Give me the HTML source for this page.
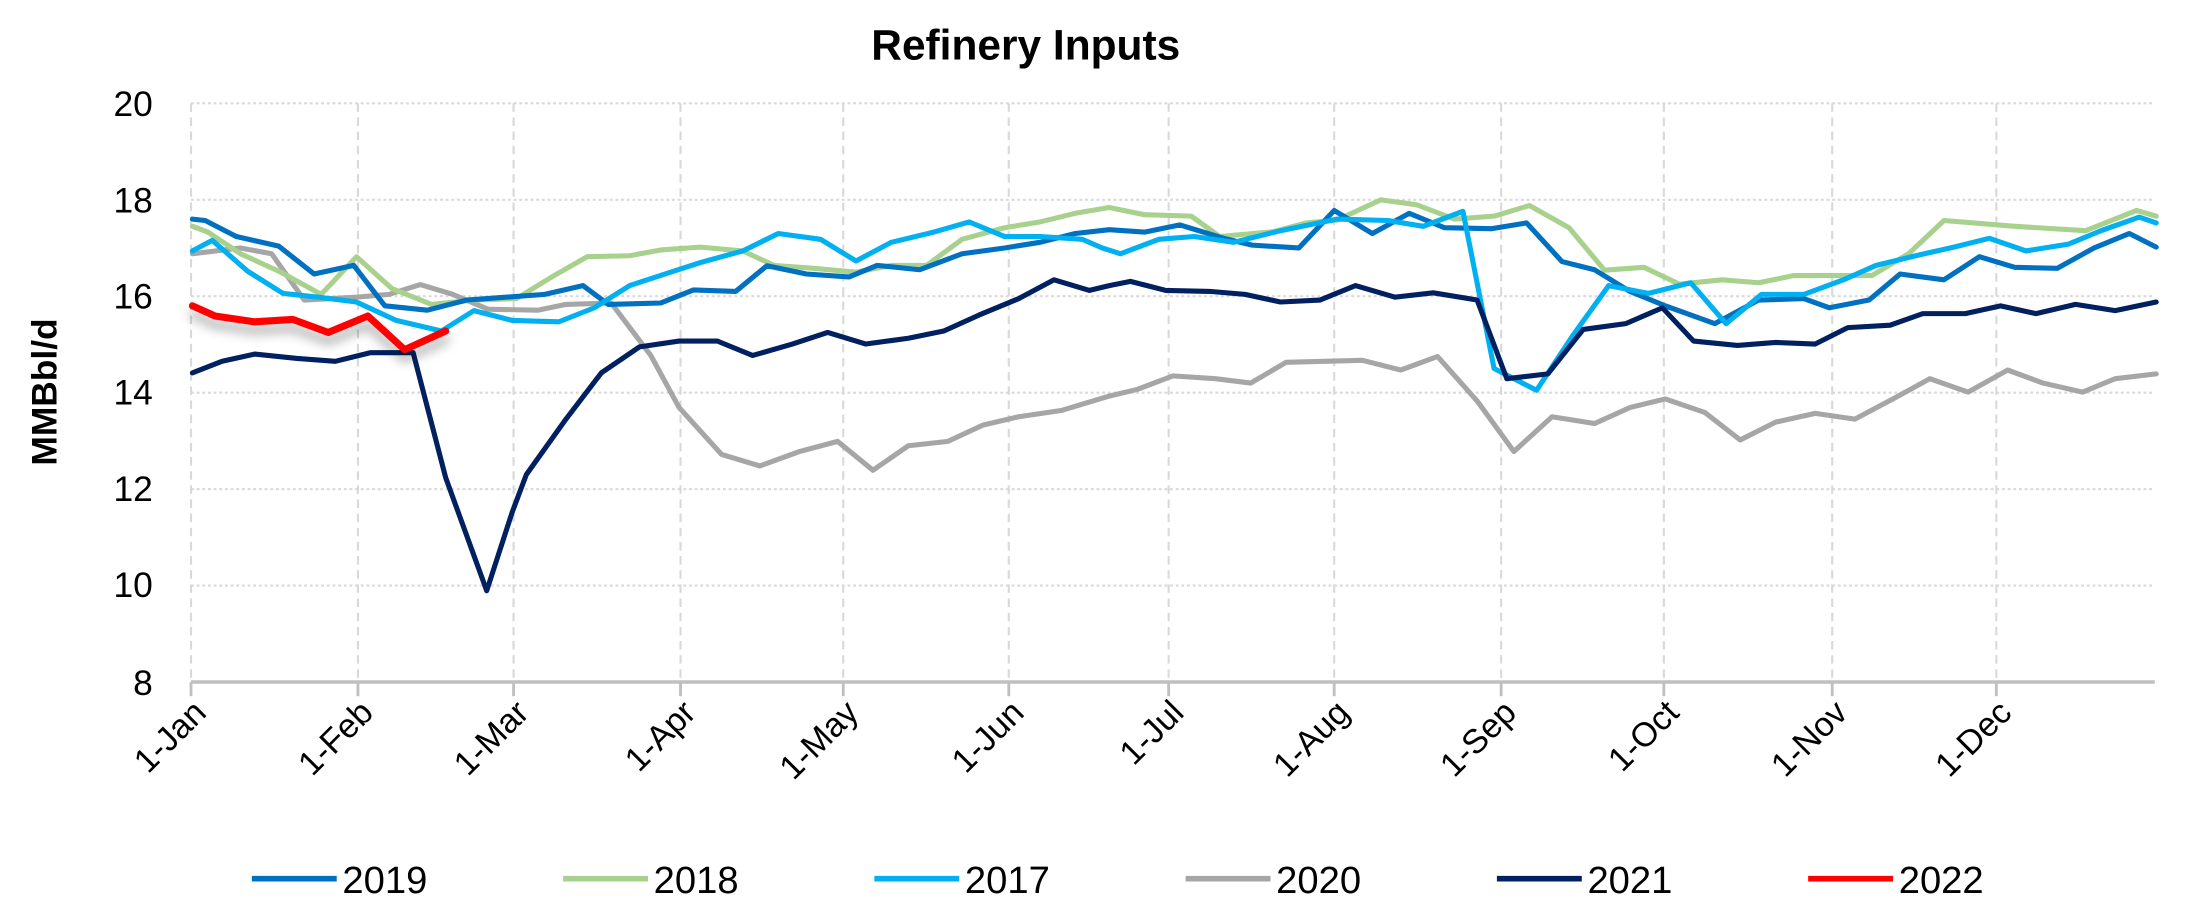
<!DOCTYPE html>
<html><head><meta charset="utf-8"><style>html,body{margin:0;padding:0;background:#fff;}svg{display:block;}</style></head>
<body>
<svg width="2193" height="900" viewBox="0 0 1550 636" xmlns="http://www.w3.org/2000/svg" font-family="'Liberation Sans', sans-serif">
<defs>
<filter id="sh" x="-20%" y="-50%" width="140%" height="200%"><feDropShadow dx="0" dy="6" stdDeviation="4" flood-color="#000" flood-opacity="0.35"/></filter>
</defs>
<rect width="1550" height="636" fill="#fff"/>
<text x="725" y="42" font-size="30" font-weight="bold" text-anchor="middle">Refinery Inputs</text>
<g stroke="#d9d9d9" stroke-width="1.5" stroke-dasharray="2,2">
<line x1="135" y1="73" x2="1523" y2="73"/><line x1="135" y1="141.2" x2="1523" y2="141.2"/><line x1="135" y1="209.3" x2="1523" y2="209.3"/><line x1="135" y1="277.5" x2="1523" y2="277.5"/><line x1="135" y1="345.7" x2="1523" y2="345.7"/><line x1="135" y1="413.8" x2="1523" y2="413.8"/>
</g>
<g stroke="#d9d9d9" stroke-width="1.5" stroke-dasharray="6,4">
<line x1="135" y1="73" x2="135" y2="482"/><line x1="253" y1="73" x2="253" y2="482"/><line x1="363" y1="73" x2="363" y2="482"/><line x1="481" y1="73" x2="481" y2="482"/><line x1="596" y1="73" x2="596" y2="482"/><line x1="713" y1="73" x2="713" y2="482"/><line x1="826" y1="73" x2="826" y2="482"/><line x1="943" y1="73" x2="943" y2="482"/><line x1="1061" y1="73" x2="1061" y2="482"/><line x1="1176" y1="73" x2="1176" y2="482"/><line x1="1295" y1="73" x2="1295" y2="482"/><line x1="1411" y1="73" x2="1411" y2="482"/>
</g>
<line x1="135" y1="482" x2="1523" y2="482" stroke="#bfbfbf" stroke-width="2.5"/>
<g stroke="#bfbfbf" stroke-width="2"><line x1="135" y1="482" x2="135" y2="492"/><line x1="253" y1="482" x2="253" y2="492"/><line x1="363" y1="482" x2="363" y2="492"/><line x1="481" y1="482" x2="481" y2="492"/><line x1="596" y1="482" x2="596" y2="492"/><line x1="713" y1="482" x2="713" y2="492"/><line x1="826" y1="482" x2="826" y2="492"/><line x1="943" y1="482" x2="943" y2="492"/><line x1="1061" y1="482" x2="1061" y2="492"/><line x1="1176" y1="482" x2="1176" y2="492"/><line x1="1295" y1="482" x2="1295" y2="492"/><line x1="1411" y1="482" x2="1411" y2="492"/></g>
<g font-size="25" text-anchor="end">
<text x="108" y="82">20</text><text x="108" y="150">18</text><text x="108" y="218">16</text><text x="108" y="286">14</text><text x="108" y="354">12</text><text x="108" y="422">10</text><text x="108" y="491">8</text>
</g>
<text transform="translate(40,277) rotate(-90)" font-size="25" font-weight="bold" text-anchor="middle">MMBbl/d</text>
<g font-size="24" text-anchor="end">
<text transform="translate(147,505) rotate(-45)">1-Jan</text>
<text transform="translate(265,505) rotate(-45)">1-Feb</text>
<text transform="translate(375,505) rotate(-45)">1-Mar</text>
<text transform="translate(493,505) rotate(-45)">1-Apr</text>
<text transform="translate(608,505) rotate(-45)">1-May</text>
<text transform="translate(725,505) rotate(-45)">1-Jun</text>
<text transform="translate(838,505) rotate(-45)">1-Jul</text>
<text transform="translate(955,505) rotate(-45)">1-Aug</text>
<text transform="translate(1073,505) rotate(-45)">1-Sep</text>
<text transform="translate(1188,505) rotate(-45)">1-Oct</text>
<text transform="translate(1307,505) rotate(-45)">1-Nov</text>
<text transform="translate(1423,505) rotate(-45)">1-Dec</text>
</g>
<g fill="none" stroke-linejoin="round" stroke-linecap="round" stroke-width="3.6">
<polyline id="s2020" stroke="#a6a6a6" points=""/>
<polyline id="s2018" stroke="#a9d18e" points=""/>
<polyline id="s2019" stroke="#0070c0" points=""/>
<polyline id="s2017" stroke="#00b0f0" points=""/>
<polyline id="s2021" stroke="#002060" points=""/>
<polyline id="s2022" stroke="#ff0000" stroke-width="5" filter="url(#sh)" points=""/>
</g>
<g stroke-width="4">
<line x1="178" y1="621" x2="238" y2="621" stroke="#0070c0"/>
<line x1="398" y1="621" x2="458" y2="621" stroke="#a9d18e"/>
<line x1="618" y1="621" x2="678" y2="621" stroke="#00b0f0"/>
<line x1="838" y1="621" x2="898" y2="621" stroke="#a6a6a6"/>
<line x1="1058" y1="621" x2="1118" y2="621" stroke="#002060"/>
<line x1="1278" y1="621" x2="1338" y2="621" stroke="#ff0000"/>
</g>
<g font-size="27">
<text x="242" y="631">2019</text><text x="462" y="631">2018</text><text x="682" y="631">2017</text><text x="902" y="631">2020</text><text x="1122" y="631">2021</text><text x="1342" y="631">2022</text>
</g>
<script>
var D={
s2019:[[136,17.6],[145,17.57],[167,17.24],[197,17.04],[222,16.46],[250,16.64],[272,15.8],[302,15.71],[330,15.92],[385,16.04],[412,16.22],[430,15.83],[467,15.86],[490,16.13],[520,16.1],[542,16.63],[570,16.46],[600,16.4],[620,16.64],[650,16.55],[680,16.88],[710,17.0],[735,17.12],[760,17.3],[784,17.38],[809,17.33],[834,17.48],[865,17.2],[885,17.06],[918,17.0],[943,17.78],[970,17.3],[996,17.72],[1021,17.42],[1054,17.4],[1079,17.52],[1104,16.72],[1127,16.55],[1152,16.1],[1177,15.8],[1212,15.43],[1243,15.92],[1275,15.95],[1293,15.76],[1321,15.92],[1343,16.46],[1374,16.34],[1399,16.82],[1424,16.6],[1454,16.58],[1480,17.0],[1505,17.3],[1524,17.02]],
s2018:[[136,17.45],[147,17.33],[170,16.88],[197,16.52],[227,16.04],[252,16.82],[277,16.16],[305,15.83],[335,15.92],[365,15.95],[390,16.4],[415,16.82],[445,16.84],[467,16.96],[495,17.02],[525,16.94],[547,16.64],[575,16.58],[605,16.5],[630,16.64],[655,16.64],[680,17.18],[710,17.42],[735,17.54],[760,17.72],[784,17.84],[809,17.69],[842,17.66],[862,17.24],[900,17.34],[923,17.52],[945,17.58],[976,18.0],[1001,17.9],[1028,17.6],[1056,17.66],[1081,17.88],[1109,17.42],[1134,16.54],[1162,16.6],[1187,16.25],[1217,16.34],[1243,16.28],[1268,16.43],[1323,16.43],[1349,16.88],[1374,17.57],[1424,17.45],[1474,17.36],[1510,17.78],[1524,17.66]],
s2017:[[136,16.94],[150,17.16],[175,16.52],[200,16.06],[225,15.98],[252,15.88],[280,15.5],[312,15.28],[335,15.7],[362,15.5],[395,15.47],[420,15.76],[445,16.22],[470,16.46],[495,16.7],[525,16.94],[550,17.3],[580,17.18],[605,16.73],[630,17.12],[660,17.33],[685,17.54],[710,17.24],[735,17.24],[765,17.18],[779,17.0],[792,16.88],[819,17.18],[844,17.24],[872,17.12],[905,17.36],[945,17.6],[981,17.57],[1006,17.45],[1034,17.76],[1056,14.5],[1086,14.05],[1112,15.2],[1137,16.22],[1165,16.06],[1195,16.28],[1220,15.43],[1245,16.04],[1275,16.04],[1303,16.34],[1326,16.64],[1354,16.84],[1381,17.02],[1406,17.2],[1432,16.94],[1462,17.08],[1485,17.36],[1512,17.64],[1524,17.52]],
s2020:[[136,16.88],[170,17.0],[192,16.88],[215,15.92],[252,15.98],[275,16.04],[297,16.24],[320,16.04],[345,15.73],[380,15.71],[400,15.83],[432,15.86],[460,14.77],[480,13.69],[510,12.72],[537,12.48],[565,12.78],[592,12.99],[617,12.39],[642,12.9],[670,12.99],[695,13.33],[720,13.5],[750,13.63],[784,13.93],[804,14.07],[829,14.35],[859,14.29],[884,14.2],[909,14.63],[963,14.67],[990,14.47],[1016,14.75],[1044,13.83],[1070,12.78],[1097,13.5],[1127,13.36],[1152,13.69],[1177,13.87],[1205,13.59],[1230,13.02],[1255,13.39],[1283,13.57],[1311,13.45],[1338,13.87],[1364,14.29],[1391,14.01],[1419,14.47],[1444,14.2],[1472,14.01],[1495,14.29],[1524,14.39]],
s2021:[[136,14.41],[157,14.65],[180,14.8],[210,14.71],[237,14.65],[262,14.83],[292,14.83],[315,12.24],[344,9.89],[362,11.52],[372,12.3],[400,13.45],[425,14.41],[452,14.95],[480,15.07],[507,15.07],[532,14.77],[560,15.01],[585,15.25],[612,15.01],[642,15.13],[667,15.28],[692,15.61],[720,15.95],[745,16.34],[770,16.12],[784,16.22],[799,16.31],[824,16.12],[855,16.1],[880,16.04],[905,15.88],[933,15.92],[958,16.22],[986,15.98],[1013,16.07],[1044,15.92],[1065,14.29],[1094,14.39],[1119,15.31],[1149,15.43],[1175,15.76],[1197,15.07],[1228,14.98],[1255,15.04],[1283,15.01],[1306,15.35],[1336,15.4],[1359,15.64],[1389,15.64],[1414,15.8],[1439,15.64],[1467,15.83],[1495,15.7],[1524,15.88]],
s2022:[[136,15.8],[152,15.59],[180,15.47],[207,15.52],[232,15.25],[260,15.59],[286,14.89],[315,15.28]]};
for(var k in D){document.getElementById(k).setAttribute('points',D[k].map(function(p){return p[0]+','+(73+(20-p[1])*34.08).toFixed(1);}).join(' '));}
</script>
</svg>
</body></html>
